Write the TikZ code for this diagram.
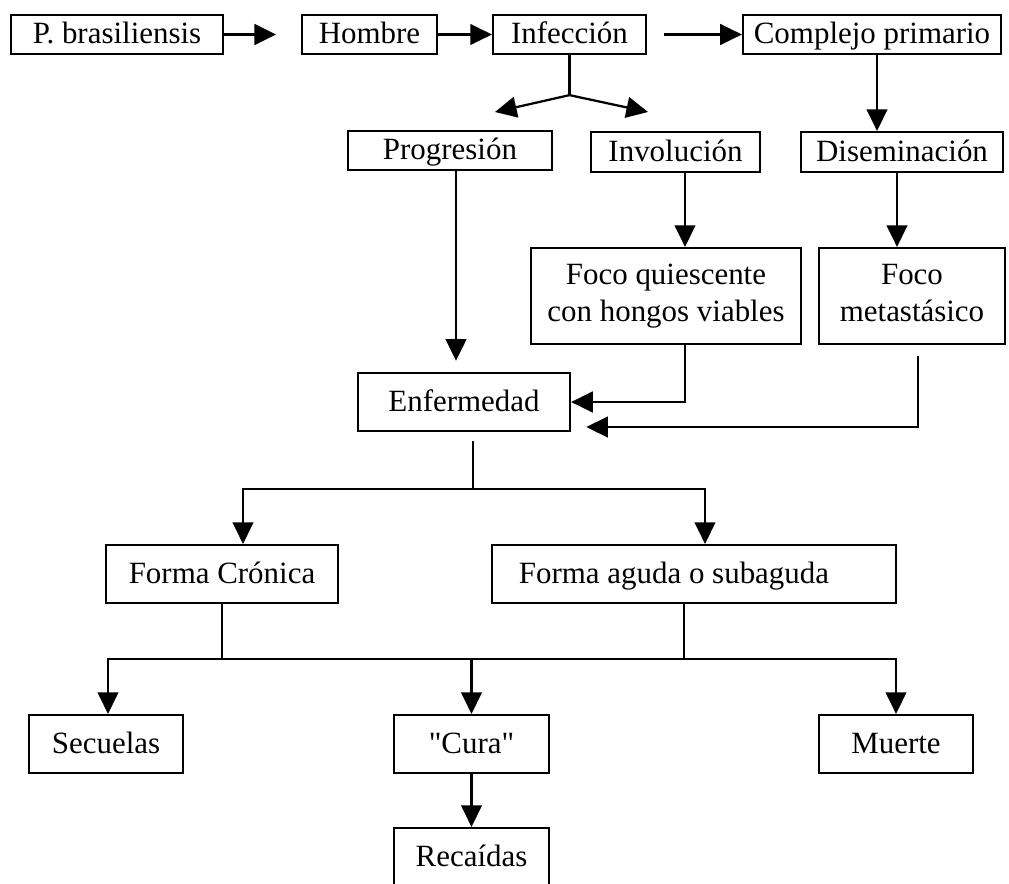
\documentclass[tikz,border=0pt]{standalone}
\usepackage{fontspec}
\setmainfont{Liberation Serif}
\usetikzlibrary{arrows.meta,calc}
\tikzset{
  caja/.style 2 args={draw,line width=0.8pt,inner sep=0pt,minimum width=#1,minimum height=#2,
    align=center,font=\fontsize{11}{13.2}\selectfont,execute at begin node={\rule[-2.5pt]{0pt}{11.5pt}}},
  flecha/.style={line width=0.8pt,-{Triangle[length=0.27cm,width=0.26cm]}},
  linea/.style={line width=0.8pt}
}
\begin{document}
\begin{tikzpicture}[x=0.0125cm,y=-0.0125cm]
\useasboundingbox (0,0) rectangle (1009,884);
%fila 1
\node[caja={2.65cm}{0.4875cm}] (pbr) at (117,34.5) {P. brasiliensis};
\node[caja={1.6875cm}{0.4875cm}] (hom) at (369.5,34.5) {Hombre};
\node[caja={1.9125cm}{0.4875cm}] (inf) at (569.5,34.5) {Infección};
\node[caja={3.225cm}{0.4875cm}] (comp) at (872,34.5) {Complejo primario};
%fila 2
\node[caja={2.55cm}{0.4875cm}] (prog) at (450,150.5) {Progresión};
\node[caja={2.1125cm}{0.5cm}] (inv) at (675.5,152) {Involución};
\node[caja={2.525cm}{0.5cm}] (dis) at (902,152) {Diseminación};
%focos
\node[caja={3.375cm}{1.2cm}] (fq) at (666,296) {Foco quiescente\\con hongos viables};
\node[caja={2.325cm}{1.2cm}] (fm) at (912,296) {Foco\\metastásico};
\node[caja={2.65cm}{0.725cm}] (enf) at (464,402) {Enfermedad};
%formas
\node[caja={2.9cm}{0.725cm}] (fc) at (222,574) {Forma Crónica};
\node[caja={5.05cm}{0.725cm}] (fa) at (694,574) {Forma aguda o subaguda\hspace*{0.5cm}};
%desenlaces
\node[caja={1.925cm}{0.725cm}] (sec) at (106,744) {Secuelas};
\node[caja={1.9375cm}{0.725cm}] (cura) at (471.5,744) {\addfontfeature{Ligatures=TeXOff}"Cura"};
\node[caja={1.925cm}{0.725cm}] (mue) at (896,744) {Muerte};
\node[caja={1.9375cm}{0.725cm}] (rec) at (471.5,857) {Recaídas};
%flechas fila 1
\draw[flecha,shorten >=0.31cm] (pbr) -- (hom);
\draw[flecha] (hom) -- (inf);
\draw[flecha,shorten <=0.21cm] (inf) -- (comp);
%division
\coordinate (div) at ($(inf.south)+(0,40)$);
\coordinate (pizq) at (495,112);
\coordinate (pder) at (648,112);
\draw[linea] (inf.south) -- (div);
\draw[flecha] (div) -- (pizq);
\draw[flecha] (div) -- (pder);
%bajadas
\foreach \de/\a/\dx in {comp/dis/5,inv/fq/9.5,dis/fm/-5}
{
  \coordinate (o) at ($(\de.south)+(\dx,0)$);
  \draw[flecha] (o) -- (o |- \a.north);
}
\coordinate (p1) at ($(prog.south)+(6,0)$);
\draw[flecha,shorten >=0.14cm] (p1) -- (p1 |- enf.north);
%focos a enfermedad
\draw[flecha] ($(fq.south)+(19,0)$) |- (enf.east);
\draw[flecha,shorten >=0.19cm] ($(fm.south)+(6,11)$) |- ($(enf.east)+(0,25)$);
%enfermedad a formas
\coordinate (e1) at ($(enf.south)+(9,9)$);
\coordinate (e2) at ($(enf.south)+(9,57)$);
\draw[linea] (e1) -- (e2);
\draw[flecha] (e2) -| ($(fc.north)+(21,0)$);
\draw[flecha] (e2) -| ($(fa.north)+(11,0)$);
%formas a desenlaces
\coordinate (b) at ($(fc.south)+(0,55)$);
\draw[linea] (fc.south) -- (b);
\draw[linea] ($(fa.south)+(-10,0)$) -- ++(0,55);
\draw[flecha] (b) -| ($(sec.north)+(2,0)$);
\draw[flecha] (b) -| (mue.north);
\draw[flecha] (b -| cura.north) -- (cura.north);
\draw[flecha] (cura) -- (rec);
\end{tikzpicture}
\end{document}
